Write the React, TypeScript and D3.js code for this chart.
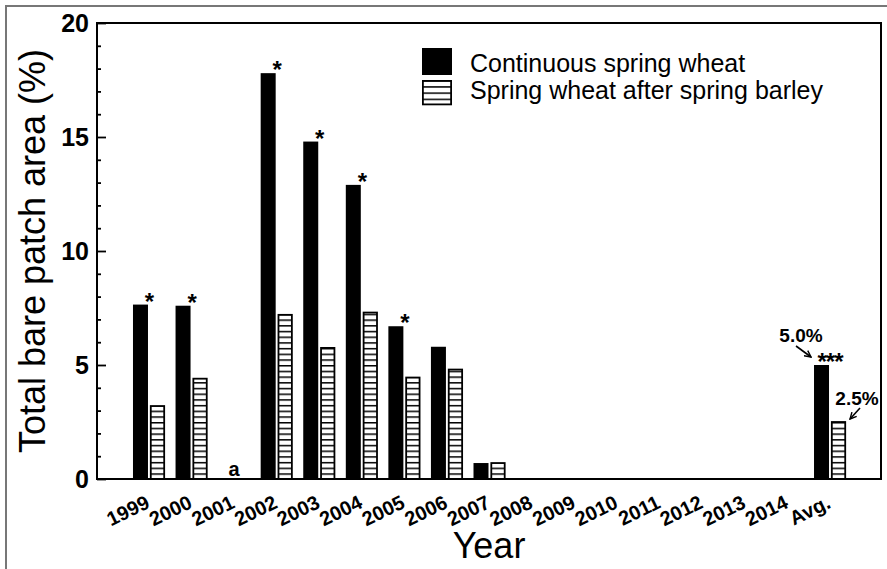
import React, { useEffect, useRef } from "react";
import * as d3 from "d3";

// chart data
const years = ["1999", "2000", "2001", "2002", "2003", "2004", "2005", "2006", "2007",
  "2008", "2009", "2010", "2011", "2012", "2013", "2014", "Avg."];
const continuousWheat = [7.65, 7.6, null, 17.8, 14.8, 12.9, 6.7, 5.8, 0.7,
  null, null, null, null, null, null, null, 5.0];
const wheatAfterBarley = [3.2, 4.4, null, 7.2, 5.75, 7.3, 4.45, 4.8, 0.7,
  null, null, null, null, null, null, null, 2.5];
const significance = ["*", "*", "", "*", "*", "*", "*", "", "",
  "", "", "", "", "", "", "", "***"];
const noDataMarks = [{ year: "2001", text: "a" }];
const avgLabels = ["5.0%", "2.5%"];
const seriesNames = ["Continuous spring wheat", "Spring wheat after spring barley"];
const yMajor = [0, 5, 10, 15, 20];

const FONT = "'Liberation Sans', Arial, Helvetica, sans-serif";

const App = () => {
  const svgRef = useRef<SVGSVGElement>(null);

  useEffect(() => {
    document.body.style.margin = "0";
    const svg = d3.select(svgRef.current);
    svg.selectAll("*").remove();

    const W = 887, H = 569;
    const left = 97, right = 881, top = 23, bottom = 479;

    const x = d3.scaleBand().domain(years).range([127.7, 851.3]);
    const y = d3.scaleLinear().domain([0, 20]).range([bottom, top]);
    const cx = (d: string) => (x(d) as number) + x.bandwidth() / 2;

    svg.attr("width", W).attr("height", H).style("display", "block")
      .attr("font-family", FONT);

    svg.append("rect").attr("width", W).attr("height", H).attr("fill", "#fff");

    // outer grey frame
    svg.append("path")
      .attr("d", `M6,${H} V6 H${W}`)
      .attr("fill", "none").attr("stroke", "#777").attr("stroke-width", 2);

    const defs = svg.append("defs");
    const step = (y(0) - y(0.25));
    const pat = defs.append("pattern").attr("id", "hatch")
      .attr("patternUnits", "userSpaceOnUse")
      .attr("x", 0).attr("y", bottom).attr("width", 20).attr("height", step);
    pat.append("rect").attr("width", 20).attr("height", step).attr("fill", "#fff");
    pat.append("rect").attr("y", 0).attr("width", 20).attr("height", 1.5).attr("fill", "#000");

    const pat2 = defs.append("pattern").attr("id", "hatchLegend")
      .attr("patternUnits", "userSpaceOnUse")
      .attr("x", 0).attr("y", 80).attr("width", 20).attr("height", 6.2);
    pat2.append("rect").attr("width", 20).attr("height", 6.2).attr("fill", "#fff");
    pat2.append("rect").attr("y", 0).attr("width", 20).attr("height", 1.5).attr("fill", "#000");

    const marker = defs.append("marker").attr("id", "arrow")
      .attr("viewBox", "0 0 10 10").attr("refX", 9).attr("refY", 5)
      .attr("markerWidth", 8).attr("markerHeight", 8).attr("orient", "auto")
      .attr("markerUnits", "userSpaceOnUse");
    marker.append("path").attr("d", "M1,1 L9,5 L1,9")
      .attr("fill", "none").attr("stroke", "#000").attr("stroke-width", 1.8);

    // bars
    const g = svg.append("g");
    years.forEach((yr, i) => {
      const c = cx(yr);
      const v1 = continuousWheat[i];
      const v2 = wheatAfterBarley[i];
      if (v1 != null) {
        g.append("rect").attr("x", c - 16).attr("y", y(v1))
          .attr("width", 15).attr("height", y(0) - y(v1)).attr("fill", "#000");
      }
      if (v2 != null) {
        g.append("rect").attr("x", c + 1.8).attr("y", y(v2))
          .attr("width", 13.4).attr("height", y(0) - y(v2))
          .attr("fill", "url(#hatch)").attr("stroke", "#000").attr("stroke-width", 1.8);
      }
      if (significance[i] && v1 != null) {
        g.append("text").attr("x", c).attr("y", y(v1) + 5)
          .attr("text-anchor", "middle").attr("font-size", 24).attr("font-weight", "bold")
          .attr("letter-spacing", -1)
          .text(significance[i]);
      }
    });

    noDataMarks.forEach((m) => {
      g.append("text").attr("x", cx(m.year)).attr("y", 476)
        .attr("text-anchor", "middle").attr("font-size", 20).attr("font-weight", "bold")
        .text(m.text);
    });

    // Avg. annotations with arrows
    const ca = cx("Avg.");
    const avgIdx = years.indexOf("Avg.");
    const yA = y(continuousWheat[avgIdx] as number);
    const yB = y(wheatAfterBarley[avgIdx] as number);
    svg.append("text").attr("x", ca - 29).attr("y", yA - 23)
      .attr("text-anchor", "middle").attr("font-size", 19).attr("font-weight", "bold")
      .text(avgLabels[0]);
    svg.append("line")
      .attr("x1", ca - 34).attr("y1", yA - 19)
      .attr("x2", ca - 19).attr("y2", yA - 8)
      .attr("stroke", "#000").attr("stroke-width", 1.6).attr("marker-end", "url(#arrow)");
    svg.append("text").attr("x", ca + 27).attr("y", yB - 17)
      .attr("text-anchor", "middle").attr("font-size", 19).attr("font-weight", "bold")
      .text(avgLabels[1]);
    svg.append("line")
      .attr("x1", ca + 30).attr("y1", yB - 14)
      .attr("x2", ca + 20).attr("y2", yB - 3)
      .attr("stroke", "#000").attr("stroke-width", 1.6).attr("marker-end", "url(#arrow)");

    // y axis ticks (inward) and labels
    const minor = d3.range(0, 21).filter((v) => v % 5 !== 0);
    svg.append("g").attr("transform", `translate(${left},0)`)
      .call(d3.axisRight(y).tickValues(minor).tickSize(4).tickFormat(() => ""))
      .call((a) => a.select(".domain").remove())
      .call((a) => a.selectAll("line").attr("stroke-width", 1.8));
    svg.append("g").attr("transform", `translate(${left},0)`)
      .call(d3.axisRight(y).tickValues(yMajor).tickSize(9).tickFormat(() => ""))
      .call((a) => a.select(".domain").remove())
      .call((a) => a.selectAll("line").attr("stroke-width", 1.8));
    svg.append("g").attr("transform", `translate(${left},0)`)
      .call(d3.axisLeft(y).tickValues(yMajor).tickSize(0).tickPadding(8).tickFormat(d3.format("d")))
      .call((a) => a.select(".domain").remove())
      .call((a) => a.selectAll("text").attr("font-size", 25).attr("font-weight", "bold")
        .attr("font-family", FONT).attr("fill", "#000"));

    // plot frame
    svg.append("rect").attr("x", left).attr("y", top)
      .attr("width", right - left).attr("height", bottom - top)
      .attr("fill", "none").attr("stroke", "#000").attr("stroke-width", 2);

    // x labels rotated
    svg.append("g").selectAll("text").data(years).join("text")
      .attr("transform", (d) => `translate(${cx(d) + 2},${507}) rotate(-26)`)
      .attr("text-anchor", "end").attr("font-size", 20).attr("font-weight", "bold")
      .text((d) => d);

    // axis titles
    svg.append("text").attr("transform", `translate(45,${(top + bottom) / 2}) rotate(-90)`)
      .attr("text-anchor", "middle").attr("font-size", 36).text("Total bare patch area (%)");
    svg.append("text").attr("x", (left + right) / 2).attr("y", 558)
      .attr("text-anchor", "middle").attr("font-size", 36).text("Year");

    // legend
    const lg = svg.append("g");
    lg.append("rect").attr("x", 422).attr("y", 48).attr("width", 30).attr("height", 27).attr("fill", "#000");
    lg.append("rect").attr("x", 422.9).attr("y", 80.9).attr("width", 28.2).attr("height", 23.5)
      .attr("fill", "url(#hatchLegend)").attr("stroke", "#000").attr("stroke-width", 1.8);
    lg.append("text").attr("x", 470).attr("y", 72).attr("font-size", 25).text(seriesNames[0]);
    lg.append("text").attr("x", 470).attr("y", 99).attr("font-size", 25).text(seriesNames[1]);
  }, []);

  return <svg ref={svgRef} />;
};

export default App;
